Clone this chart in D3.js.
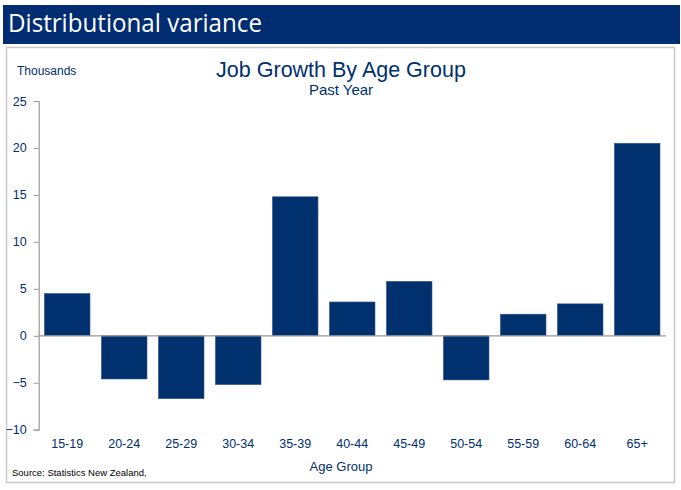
<!DOCTYPE html>
<html>
<head>
<meta charset="utf-8">
<script src="https://cdn.jsdelivr.net/npm/d3@7"></script>
<style>
  body { margin: 0; background: #fff; }
  text { font-family: "Liberation Sans", Arial, sans-serif; }
</style>
</head>
<body>
<div id="chart"></div>
<script>
// Job growth (thousands) by age group, past year
var categories = ['15-19', '20-24', '25-29', '30-34', '35-39', '40-44', '45-49', '50-54', '55-59', '60-64', '65+'];
var values = [4.5, -4.6, -6.7, -5.2, 14.8, 3.6, 5.8, -4.7, 2.3, 3.4, 20.5];
var yTicks = [-10, -5, 0, 5, 10, 15, 20, 25];

var W = 681, H = 490;
var navy = '#00306e';

var svg = d3.select('#chart')
    .append('svg')
    .attr('width', W)
    .attr('height', H);

// Header band
svg.append('rect')
    .attr('x', 3).attr('y', 5)
    .attr('width', 677).attr('height', 39)
    .attr('fill', '#002d72');

svg.append('text')
    .attr('x', 8).attr('y', 32)
    .attr('fill', '#fff')
    .attr('font-size', 25)
    .attr('textLength', 254)
    .attr('lengthAdjust', 'spacingAndGlyphs')
    .style('font-family', '"Open Sans", sans-serif')
    .text('Distributional variance');

// Chart frame
svg.append('rect')
    .attr('x', 6.5).attr('y', 47.5)
    .attr('width', 668).attr('height', 435)
    .attr('fill', '#fff')
    .attr('stroke', '#c8c8c8')
    .attr('stroke-width', 1.5);

// Scales
var x = d3.scaleBand()
    .domain(categories)
    .range([38.7, 665.7])
    .paddingInner(0.2)
    .paddingOuter(0.1);

var y = d3.scaleLinear()
    .domain([-10, 25])
    .range([429.7, 101]);

// Bars
svg.selectAll('.bar')
    .data(values)
  .enter().append('rect')
    .attr('class', 'bar')
    .attr('x', function(d, i) { return x(categories[i]); })
    .attr('y', function(d) { return y(Math.max(0, d)); })
    .attr('width', x.bandwidth())
    .attr('height', function(d) { return Math.abs(y(d) - y(0)); })
    .attr('fill', navy)
    .attr('stroke', '#3a5a8c')
    .attr('stroke-width', 0.6);

// Y axis
var yAxis = svg.append('g')
    .attr('transform', 'translate(38.7,0)')
    .call(d3.axisLeft(y).tickValues(yTicks).tickSize(5).tickPadding(7));

yAxis.select('.domain').attr('stroke', '#999').attr('stroke-width', 1.2);
yAxis.selectAll('.tick line').attr('stroke', '#999');
yAxis.selectAll('.tick text')
    .attr('fill', navy)
    .attr('font-size', 12.5)
    .style('font-family', '"Liberation Sans", Arial, sans-serif');

// Zero line
svg.append('line')
    .attr('x1', 38.7).attr('x2', 665.7)
    .attr('y1', y(0)).attr('y2', y(0))
    .attr('stroke', '#999')
    .attr('stroke-width', 1.2);

// X axis labels
var xAxis = svg.append('g')
    .attr('transform', 'translate(0,' + y(-10) + ')')
    .call(d3.axisBottom(x).tickSize(0).tickPadding(9));

xAxis.select('.domain').remove();
xAxis.selectAll('.tick text')
    .attr('fill', navy)
    .attr('font-size', 12.5)
    .style('font-family', '"Liberation Sans", Arial, sans-serif');

// Titles
svg.append('text')
    .attr('x', 341).attr('y', 77)
    .attr('text-anchor', 'middle')
    .attr('fill', navy)
    .attr('font-size', 21.5)
    .text('Job Growth By Age Group');

svg.append('text')
    .attr('x', 341).attr('y', 95)
    .attr('text-anchor', 'middle')
    .attr('fill', navy)
    .attr('font-size', 15)
    .text('Past Year');

svg.append('text')
    .attr('x', 17).attr('y', 75)
    .attr('fill', navy)
    .attr('font-size', 12)
    .text('Thousands');

svg.append('text')
    .attr('x', 341).attr('y', 471)
    .attr('text-anchor', 'middle')
    .attr('fill', navy)
    .attr('font-size', 13)
    .text('Age Group');

svg.append('text')
    .attr('x', 12).attr('y', 476)
    .attr('fill', '#000')
    .attr('font-size', 9.5)
    .text('Source: Statistics New Zealand,');
</script>
</body>
</html>
